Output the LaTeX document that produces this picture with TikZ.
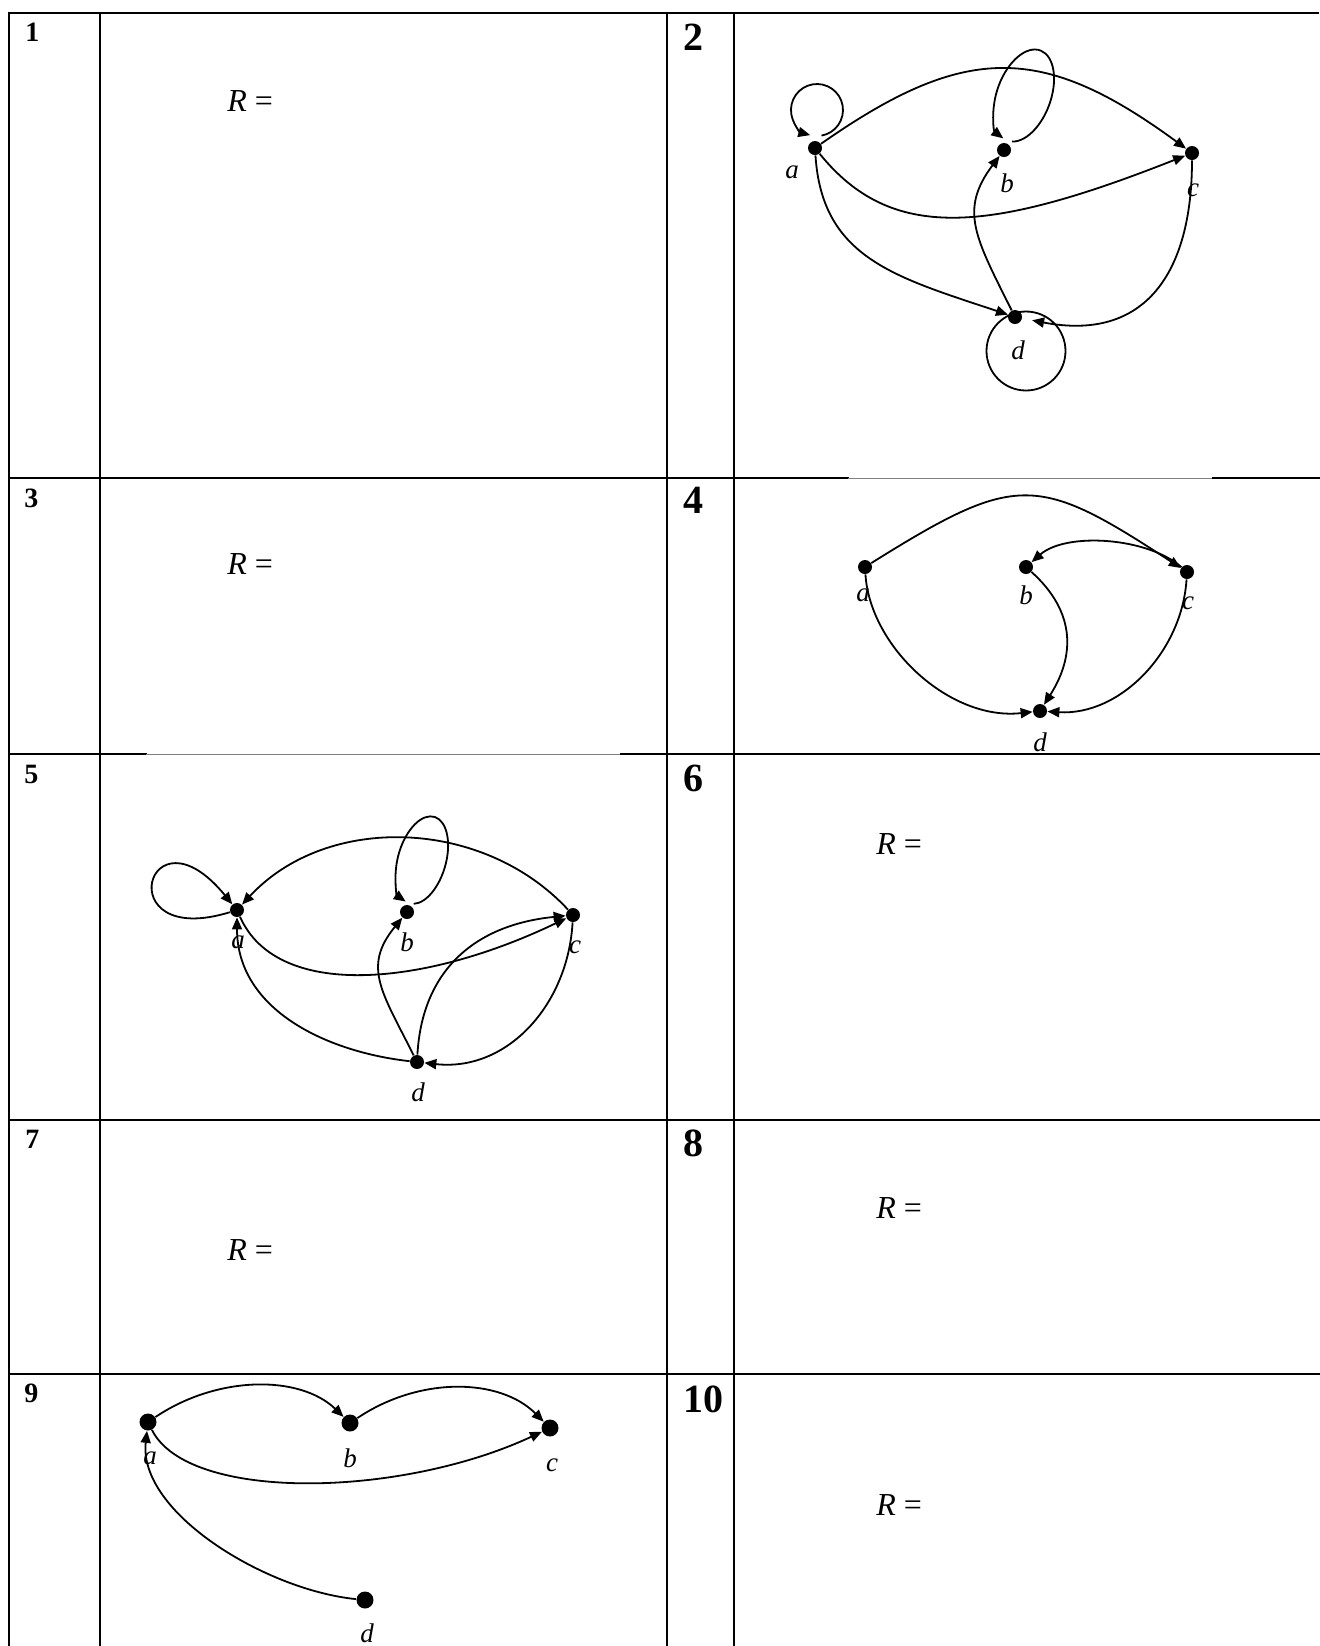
\documentclass[tikz,border=0pt]{standalone}
\usepackage{fontspec}
\setmainfont{Liberation Serif}
\usetikzlibrary{arrows.meta}
\begin{document}
\begin{tikzpicture}[x=0.5pt,y=-0.5pt,
  grid/.style={line width=1pt,line cap=rect},
  thinline/.style={line width=0.5pt,gray},
  dot/.style={circle,fill=black,inner sep=0pt,minimum size=7pt},
  bigdot/.style={circle,fill=black,inner sep=0pt,minimum size=8.5pt},
  lbl/.style={font=\fontsize{13.5}{14}\selectfont\itshape,inner sep=0pt},
  arr/.style={line width=0.9pt,-{Triangle[length=6pt,width=5pt]}},
  plainedge/.style={line width=0.9pt},
  numL/.style={font=\fontsize{14}{16}\selectfont\bfseries,anchor=base west,inner sep=0pt},
  numR/.style={font=\fontsize{20}{22}\selectfont\bfseries,anchor=base west,inner sep=0pt},
  req/.style={font=\fontsize{16}{18}\selectfont,anchor=base west,inner sep=0pt}
]
\useasboundingbox (0,0) rectangle (1319,1646);
\fill[white] (0,0) rectangle (1319,1646);
% table
\draw[grid] (9,13) -- (777,13);
\draw[line width=0.6pt] (777,13) -- (1319,13);
\draw[grid] (9,13) -- (9,1646);
\draw[grid] (100,13) -- (100,1646);
\draw[grid] (667,13) -- (667,1646);
\draw[grid] (734,13) -- (734,1646);
\draw[grid] (9,478) -- (848,478);
\draw[thinline] (848,478) -- (1213,478);
\draw[grid] (1213,478) -- (1319,478);
\draw[grid] (9,754) -- (146,754);
\draw[thinline] (146,754) -- (621,754);
\draw[grid] (621,754) -- (1319,754);
\draw[grid] (9,1120) -- (1319,1120);
\draw[grid] (9,1374) -- (1319,1374);
% numbers
\node[numL] (n1) at (25,41) {1};
\node[numR] (n2) at (683,50) {2};
\node[numL] (n3) at (24,507) {3};
\node[numR] (n4) at (683,513) {4};
\node[numL] (n5) at (24,783) {5};
\node[numR] (n6) at (683,791) {6};
\node[numL] (n7) at (25,1148) {7};
\node[numR] (n8) at (683,1156) {8};
\node[numL] (n9) at (24,1402) {9};
\node[numR] (n10) at (683,1412) {10};
% R =
\node[req] (r1) at (227,111) {\textit{R} =};
\node[req] (r3) at (227,574.5) {\textit{R} =};
\node[req] (r6) at (876,854) {\textit{R} =};
\node[req] (r7) at (227,1260) {\textit{R} =};
\node[req] (r8) at (876,1218) {\textit{R} =};
\node[req] (r10) at (876,1515.5) {\textit{R} =};

% ---------- graph 2 ----------
\node[dot] (a2) at (815,148) {};
\node[dot] (b2) at (1004,150) {};
\node[dot] (c2) at (1192,153) {};
\node[dot] (d2) at (1015,317) {};
\node[lbl] (la2) at (792,172) {a};
\node[lbl] (lb2) at (1007,183) {b};
\node[lbl] (lc2) at (1193,190) {c};
\node[lbl] (ld2) at (1018,350) {d};
\draw[arr] (a2.center) ++(6.5,-12.4) arc[start angle=80,end angle=-255,radius=26];
\draw[arr,rotate around={-20:(b2.center)}] (b2.center) ++(4.7,-10.7) arc[start angle=80,end angle=-260,x radius=27,y radius=48];
\draw[plainedge] (d2.center) ++(11,34) circle[radius=39.5];
\draw[arr] (a2) .. controls +(150,-105) and +(-150,-110) .. (c2);
\draw[arr] (a2) .. controls +(76,94) and +(-205,81) .. (c2);
\draw[arr] (a2) .. controls +(7,110) and +(-120,-40) .. (d2);
\draw[arr] (d2) .. controls +(-40,-80) and +(-45,60) .. (b2);
\draw[arr,shorten >=5pt] (c2) .. controls +(0,120) and +(130,25) .. (d2);

% ---------- graph 4 ----------
\node[dot] (a4) at (865,567) {};
\node[dot] (b4) at (1026,567) {};
\node[dot] (c4) at (1187,572) {};
\node[dot] (d4) at (1040,711) {};
\node[lbl] (la4) at (863,595) {a};
\node[lbl] (lb4) at (1026,595) {b};
\node[lbl] (lc4) at (1188,603) {c};
\node[lbl] (ld4) at (1040,742) {d};
\draw[arr] (a4) .. controls +(152,-95) and +(-150,-98) .. (c4);
\draw[arr] (c4) .. controls +(-40,-35) and +(40,-35) .. (b4);
\draw[arr] (b4) .. controls +(50,45) and +(35,-55) .. (d4);
\draw[arr] (a4) .. controls +(5,80) and +(-90,10) .. (d4);
\draw[arr] (c4) .. controls +(-5,80) and +(80,5) .. (d4);

% ---------- graph 5 ----------
\node[dot] (a5) at (237,910) {};
\node[dot] (b5) at (407,912) {};
\node[dot] (c5) at (573,915) {};
\node[dot] (d5) at (417,1062) {};
\node[lbl] (la5) at (238,942) {a};
\node[lbl] (lb5) at (407,942) {b};
\node[lbl] (lc5) at (575,947) {c};
\node[lbl] (ld5) at (418,1092) {d};
\draw[arr] (a5) .. controls +(-130,40) and +(-90,-110) .. (a5);
\draw[arr,rotate around={-16:(b5.center)}] (b5.center) ++(4.2,-9.7) arc[start angle=80,end angle=-260,x radius=24,y radius=45];
\draw[arr] (c5) .. controls +(-90,-97) and +(90,-97) .. (a5);
\draw[arr] (a5) .. controls +(40,90) and +(-150,72) .. (c5);
\draw[arr] (d5) .. controls +(5,-90) and +(-100,10) .. (c5);
\draw[arr] (d5) .. controls +(-90,-10) and +(0,100) .. (a5);
\draw[arr] (d5) .. controls +(-35,-70) and +(-45,55) .. (b5);
\draw[arr] (c5) .. controls +(-5,90) and +(90,10) .. (d5);

% ---------- graph 9 ----------
\node[bigdot] (a9) at (148,1422) {};
\node[bigdot] (b9) at (350,1423) {};
\node[bigdot] (c9) at (550,1428) {};
\node[bigdot] (d9) at (365,1600) {};
\node[lbl] (la9) at (150,1458) {a};
\node[lbl] (lb9) at (350,1458) {b};
\node[lbl] (lc9) at (552,1465) {c};
\node[lbl] (ld9) at (367,1633) {d};
\draw[arr] (a9) .. controls +(70,-47) and +(-50,-48) .. (b9);
\draw[arr] (b9) .. controls +(70,-47) and +(-50,-50) .. (c9);
\draw[arr] (a9) .. controls +(40,80) and +(-150,70) .. (c9);
\draw[arr] (d9) .. controls +(-100,-10) and +(-10,90) .. (a9);
\end{tikzpicture}
\end{document}
